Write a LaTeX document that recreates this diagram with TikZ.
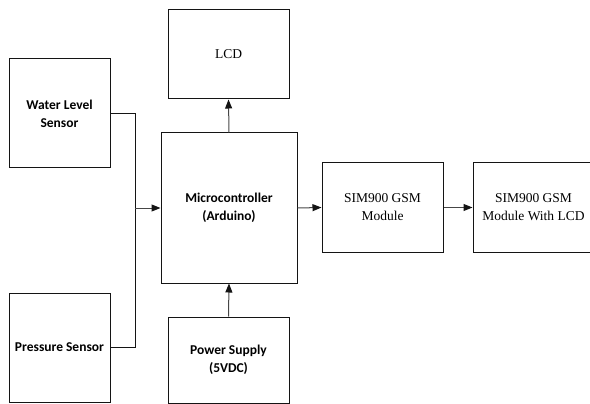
\documentclass[tikz,border=0pt]{standalone}
\usepackage{fontspec}
\setmainfont{Liberation Serif}
\newfontfamily\labelfont{Carlito}
\usepackage{tikz}
\usetikzlibrary{arrows.meta, positioning, calc}
\definecolor{mydark}{RGB}{20,20,20}
\definecolor{mygrey}{RGB}{70,70,70}
\tikzset{
  block/.style={rectangle, draw=mydark, fill=white, align=center,
    font=\fontsize{13.5}{18}\selectfont, line width=1pt, inner sep=0pt},
  boldblock/.style={block, font=\labelfont\bfseries\fontsize{13.5}{18}\selectfont},
  arrow/.style={-{Triangle[length=9pt, width=7pt, color=mydark]}, line width=1pt, color=mygrey},
  line/.style={line width=1pt, color=mydark}
}
\begin{document}
\begin{tikzpicture}[x=1pt, y=-1pt]
  \useasboundingbox (0,0) rectangle (590,404);
  \clip (0,0) rectangle (590,404);

  % Sensors
  \node[boldblock, minimum width=101pt, minimum height=109pt] (wls) at (59.5,113.5) {Water Level\\Sensor};
  \node[boldblock, minimum width=101pt, minimum height=109pt] (ps) at (59.5,347.5) {Pressure Sensor};

  % Controller, display and supply
  \node[boldblock, minimum width=136pt, minimum height=150pt] (mc) at (229,208) {Microcontroller\\(Arduino)};
  \node[block, minimum width=121pt, minimum height=89pt] (lcd) at (228.5,54.5) {LCD};
  \node[boldblock, minimum width=121pt, minimum height=86pt] (pwr) at (228.5,360) {Power Supply\\(5VDC)};

  % GSM modules
  \node[block, minimum width=121pt, minimum height=89pt] (gsm) at (382.5,207.5) {SIM900 GSM\\Module};
  \node[block, minimum width=121pt, minimum height=89pt] (gsml) at (533.5,207.5) {SIM900 GSM\\Module With LCD};

  % Sensor bus
  \coordinate (bus) at (135,208);
  \draw[line] (wls.east) -| (bus);
  \draw[line] (ps.east) -| (bus);
  \draw[arrow] (bus) -- (mc.west);

  % Other connections
  \draw[arrow] (mc.north) -- (lcd.south);
  \draw[arrow] (pwr.north) -- (mc.south);
  \draw[arrow] (mc.east) -- (gsm.west);
  \draw[arrow] (gsm.east) -- (gsml.west);
\end{tikzpicture}
\end{document}
